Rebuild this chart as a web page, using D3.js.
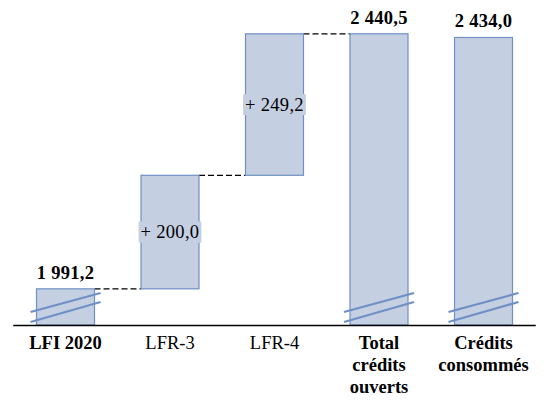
<!DOCTYPE html>
<html>
<head>
<meta charset="utf-8">
<script src="https://cdn.jsdelivr.net/npm/d3@7"></script>
<style>
  body { margin: 0; background: #fff; }
</style>
</head>
<body>
<div id="chart"></div>
<script>
// data
var categories = ["LFI 2020", "LFR-3", "LFR-4", "Total crédits ouverts", "Crédits consommés"];
var categoryLines = [["LFI 2020"], ["LFR-3"], ["LFR-4"], ["Total", "crédits", "ouverts"], ["Crédits", "consommés"]];
var categoryBold = [true, false, false, true, true];
var values = [1991.2, 200.0, 249.2, 2440.5, 2434.0];
var kinds = ["total", "delta", "delta", "total", "total"];

// setup
var width = 550, height = 411;
var serif = "'Liberation Serif', 'Times New Roman', serif";
var fr = d3.formatLocale({ decimal: ",", thousands: " ", grouping: [3], currency: ["", " €"] });
var fmt = fr.format(",.1f");

var svg = d3.select("#chart").append("svg")
    .attr("width", width)
    .attr("height", height)
    .style("font-family", serif);

var xScale = d3.scaleBand()
    .domain(categories)
    .range([13.25, 535.75])
    .paddingInner(0.445)
    .paddingOuter(0.2225);

var yScale = d3.scaleLinear()
    .domain([1927.5, 2500])
    .range([325, 0]);

// build the waterfall steps
var running = 0;
var steps = values.map(function(v, i) {
    var s;
    if (kinds[i] === "total") {
        s = { cat: categories[i], lo: yScale.domain()[0], hi: v, v: v, kind: "total" };
        running = v;
    } else {
        s = { cat: categories[i], lo: running, hi: running + v, v: v, kind: "delta" };
        running = running + v;
    }
    return s;
});

var barFill = "#c5cfe2", barStroke = "#6f8fc6";

// connectors (up to the first "Total" bar)
for (var i = 0; i < 3; i++) {
    svg.append("line")
        .attr("x1", xScale(steps[i].cat) + xScale.bandwidth())
        .attr("x2", xScale(steps[i + 1].cat))
        .attr("y1", yScale(steps[i].hi))
        .attr("y2", yScale(steps[i].hi))
        .style("stroke", "#000")
        .style("stroke-width", 1.2)
        .style("stroke-dasharray", "6,3");
}

// bars
svg.selectAll("rect.bar")
    .data(steps)
    .enter().append("rect")
    .attr("class", "bar")
    .attr("x", function(d) { return xScale(d.cat); })
    .attr("y", function(d) { return yScale(d.hi); })
    .attr("width", xScale.bandwidth())
    .attr("height", function(d) { return yScale(d.lo) - yScale(d.hi); })
    .style("fill", barFill)
    .style("stroke", barStroke)
    .style("stroke-width", 1.2);

// axis break marks on the totals
var y0 = yScale.range()[0];
steps.filter(function(d) { return d.kind === "total"; }).forEach(function(d) {
    var xl = xScale(d.cat) - 6, xr = xScale(d.cat) + xScale.bandwidth() + 6;
    [[13, 32], [3, 23]].forEach(function(o) {
        svg.append("line")
            .attr("x1", xl).attr("y1", y0 - o[0])
            .attr("x2", xr).attr("y2", y0 - o[1])
            .style("stroke", "#6f8fc6")
            .style("stroke-width", 2.2);
    });
});

// baseline
svg.append("line")
    .attr("x1", xScale.range()[0]).attr("x2", xScale.range()[1])
    .attr("y1", y0 + 0.5).attr("y2", y0 + 0.5)
    .style("stroke", "#000")
    .style("stroke-width", 1.5);

// total labels
svg.selectAll("text.total")
    .data(steps.filter(function(d) { return d.kind === "total"; }))
    .enter().append("text")
    .attr("class", "total")
    .attr("x", function(d) { return xScale(d.cat) + xScale.bandwidth() / 2; })
    .attr("y", function(d) { return yScale(d.hi) - 10; })
    .attr("text-anchor", "middle")
    .attr("font-family", serif)
    .style("font-size", "18.5px")
    .style("font-weight", "bold")
    .style("letter-spacing", "0.3px")
    .style("fill", "#000")
    .text(function(d) { return fmt(d.v); });

// delta labels with boxes
steps.filter(function(d) { return d.kind === "delta"; }).forEach(function(d) {
    var cx = xScale(d.cat) + xScale.bandwidth() / 2;
    var cy = (yScale(d.lo) + yScale(d.hi)) / 2;
    var g = svg.append("g");
    var t = g.append("text")
        .attr("x", cx)
        .attr("y", cy + 6)
        .attr("text-anchor", "middle")
        .attr("font-family", serif)
        .style("font-size", "18.5px")
        .style("letter-spacing", "0.3px")
        .style("fill", "#000")
        .text("+ " + fmt(d.v));
    var bb = t.node().getBBox();
    g.insert("rect", "text")
        .attr("x", bb.x - 2)
        .attr("y", cy - 10.5)
        .attr("width", bb.width + 4)
        .attr("height", 21)
        .style("fill", barFill);
});

// category labels
categories.forEach(function(c, i) {
    var t = svg.append("text")
        .attr("x", xScale(c) + xScale.bandwidth() / 2)
        .attr("y", 349)
        .attr("text-anchor", "middle")
        .attr("font-family", serif)
        .style("font-size", "18.5px")
        .style("fill", "#000")
        .style("font-weight", categoryBold[i] ? "bold" : "normal");
    categoryLines[i].forEach(function(line, j) {
        t.append("tspan")
            .attr("x", xScale(c) + xScale.bandwidth() / 2)
            .attr("dy", j === 0 ? 0 : 22)
            .text(line);
    });
});
</script>
</body>
</html>
